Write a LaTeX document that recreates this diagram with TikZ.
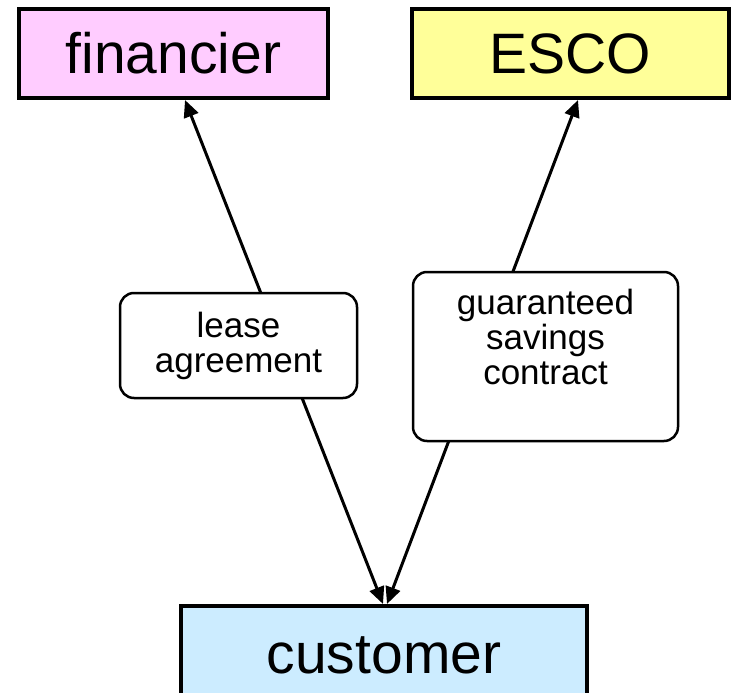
\documentclass[tikz,border=0pt]{standalone}
\usepackage{fontspec}
\setmainfont{Liberation Sans}
\usetikzlibrary{arrows.meta}
\definecolor{pinkc}{HTML}{FFCCFF}
\definecolor{yellowc}{HTML}{FFFF99}
\definecolor{bluec}{HTML}{CCECFF}
\begin{document}
\begin{tikzpicture}[x=1pt,y=-1pt,
  bigbox/.style={draw=black, line width=4pt, inner sep=0pt, font=\fontsize{57}{60}\selectfont},
  labelbox/.style={draw=black, line width=2.5pt, rounded corners=14pt, fill=white, inner sep=0pt,
    align=center, font=\fontsize{35}{35}\selectfont},
  link/.style={line width=3pt, {Triangle[length=17pt,width=15pt]}-{Triangle[length=17pt,width=15pt]}}]
\useasboundingbox (0,0) rectangle (731,693);
\node[bigbox, fill=pinkc, minimum width=309pt, minimum height=89pt] (fin) at (173.5,53.5) {financier};
\node[bigbox, fill=yellowc, minimum width=317pt, minimum height=89pt] (esco) at (570.5,53.5) {ESCO};
\node[bigbox, fill=bluec, minimum width=406pt, minimum height=98pt] (cust) at (384,655) {customer};
\draw[link] ([xshift=11.5pt]fin.south) -- ([xshift=-1pt]cust.north);
\draw[link] ([xshift=7.5pt]esco.south) -- ([xshift=3pt]cust.north);
\node[labelbox, minimum width=237pt, minimum height=105pt] (lease) at (238.5,345.5) {lease\\agreement};
\node[labelbox, minimum width=265pt, minimum height=169pt, text depth=40pt] (gsc) at (545.5,356.5) {guaranteed\\savings\\contract};
\end{tikzpicture}
\end{document}
